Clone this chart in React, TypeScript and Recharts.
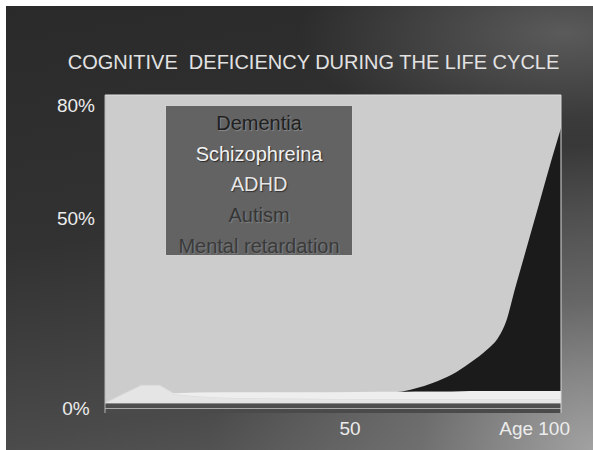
import { AreaChart, Area, XAxis, YAxis, CartesianGrid, ReferenceLine } from 'recharts'

// ages along the life cycle (x axis)
const ages = [0, 4, 8, 12, 15, 20, 25, 30, 40, 50, 60, 64, 68, 72, 76, 80, 84, 86, 88, 90, 92, 95, 98, 100]

// prevalence in %, stacked bottom -> top
const mentalRetardation = [1.3, 1.3, 1.3, 1.3, 1.3, 1.3, 1.3, 1.3, 1.3, 1.3, 1.3, 1.3, 1.3, 1.3, 1.3, 1.3, 1.3, 1.3, 1.3, 1.3, 1.3, 1.3, 1.3, 1.3]
const autism = [1.3, 1.3, 1.3, 1.3, 1.3, 1.3, 1.3, 1.3, 1.3, 1.3, 1.3, 1.3, 1.3, 1.3, 1.3, 1.3, 1.3, 1.3, 1.3, 1.3, 1.3, 1.3, 1.3, 1.3]
const adhd = [0, 2.4, 4.7, 4.7, 2.4, 1.8, 1.5, 1.3, 1.2, 1.1, 1.1, 1.1, 1.1, 1.1, 1.1, 1.1, 1.1, 1.1, 1.1, 1.1, 1.1, 1.1, 1.1, 1.1]
const schizophrenia = [0, 0, 0, 0, 0.2, 1.0, 1.4, 1.6, 1.7, 1.8, 1.9, 1.9, 2.0, 2.0, 2.0, 2.1, 2.1, 2.1, 2.1, 2.1, 2.1, 2.1, 2.1, 2.1]
const dementia = [0, 0, 0, 0, 0, 0, 0, 0, 0, 0, 0, 0, 0.8, 2.3, 4.4, 7.4, 11.2, 13.7, 18.5, 27.4, 35.9, 48.6, 61.4, 69.5]

const yTicks = [0, 50, 80]
const xTicks = [50, 100]

const legendItems = [
  { name: 'Dementia', color: '#202020', shadow: '1px 1px 1px rgba(255,255,255,0.25)' },
  { name: 'Schizophreina', color: '#f2f2f2', shadow: '1px 1px 1px rgba(0,0,0,0.6)' },
  { name: 'ADHD', color: '#e6e6e6', shadow: '1px 1px 1px rgba(0,0,0,0.5)' },
  { name: 'Autism', color: '#363636', shadow: '1px 1px 1px rgba(255,255,255,0.2)' },
  { name: 'Mental retardation', color: '#3a3a3a', shadow: '1px 1px 1px rgba(255,255,255,0.18)' },
]

const font = '"Liberation Sans", Arial, sans-serif'

const data = ages.map((age, i) => ({
  age,
  mentalRetardation: mentalRetardation[i],
  autism: autism[i],
  adhd: adhd[i],
  schizophrenia: schizophrenia[i],
  dementia: dementia[i],
}))

const YTick = ({ y, payload }: any) => (
  <text x={76} y={y} dy={-5} textAnchor="middle" dominantBaseline="central" fill="#ececec" fontSize={19} fontFamily={font}>
    {payload.value}%
  </text>
)

const XTick = ({ x, y, payload }: any) => {
  const last = payload.value === 100
  return (
    <text
      x={x}
      y={y}
      dx={last ? 9 : 17}
      dy={14}
      textAnchor={last ? 'end' : 'middle'}
      fill="#ececec"
      fontSize={19}
      fontFamily={font}
    >
      {last ? `Age ${payload.value}` : payload.value}
    </text>
  )
}

export default function App() {
  return (
    <div style={{ position: 'fixed', left: 0, top: 0, width: 593, height: 450, background: '#fff', overflow: 'hidden' }}>
      <div
        style={{
          position: 'absolute',
          left: 6,
          top: 6,
          width: 587,
          height: 444,
          background:
            'radial-gradient(ellipse 65% 75% at 100% 100%, rgba(165,165,165,0.95) 0%, rgba(130,130,130,0.55) 45%, rgba(0,0,0,0) 100%),' +
            'radial-gradient(ellipse 45% 25% at 95% 6%, rgba(120,120,120,0.6) 0%, rgba(0,0,0,0) 100%),' +
            'linear-gradient(170deg, #2a2a2a 0%, #323232 45%, #4a4a4a 80%, #5e5e5e 100%)',
        }}
      />
      <div
        style={{
          position: 'absolute',
          left: 0,
          top: 50,
          width: 627,
          textAlign: 'center',
          color: '#e2e2e2',
          fontFamily: font,
          fontSize: 20,
          whiteSpace: 'pre',
          lineHeight: '24px',
        }}
      >
        {'COGNITIVE  DEFICIENCY DURING THE LIFE CYCLE'}
      </div>
      <div style={{ position: 'absolute', left: 0, top: 0 }}>
        <AreaChart width={593} height={450} data={data} margin={{ top: 95, right: 32, left: 55, bottom: 7 }}>
          <CartesianGrid horizontal={false} vertical={false} fill="#cccccc" />
          <XAxis
            dataKey="age"
            type="number"
            domain={[0, 100]}
            ticks={xTicks}
            tick={<XTick />}
            axisLine={false}
            tickLine={false}
            height={30}
          />
          <YAxis
            type="number"
            domain={[0, 84]}
            ticks={yTicks}
            tick={<YTick />}
            axisLine={{ stroke: '#b5b5b5' }}
            tickLine={false}
            width={50}
          />
          <Area type="linear" dataKey="mentalRetardation" stackId="a" stroke="#a9a9a9" strokeWidth={2} fill="#4a4a4a" fillOpacity={1} isAnimationActive={false} />
          <Area type="linear" dataKey="autism" stackId="a" stroke="none" fill="#4e4e4e" fillOpacity={1} isAnimationActive={false} />
          <Area type="linear" dataKey="adhd" stackId="a" stroke="#dcdcdc" strokeWidth={1} fill="#e5e5e5" fillOpacity={1} isAnimationActive={false} />
          <Area type="linear" dataKey="schizophrenia" stackId="a" stroke="none" fill="#eeeeee" fillOpacity={1} isAnimationActive={false} />
          <Area type="monotone" dataKey="dementia" stackId="a" stroke="none" fill="#1b1b1b" fillOpacity={1} isAnimationActive={false} />
          <ReferenceLine y={84} stroke="#e2e2e2" />
          <ReferenceLine x={100} stroke="#d8d8d8" />
        </AreaChart>
      </div>
      <div
        style={{
          position: 'absolute',
          left: 165,
          top: 105,
          width: 186,
          height: 147,
          background: '#636363',
          border: '1px solid #cfcfcf',
          fontFamily: font,
          fontSize: 20,
          textAlign: 'center',
          paddingTop: 2,
          boxSizing: 'content-box',
        }}
      >
        {legendItems.map((item) => (
          <div key={item.name} style={{ color: item.color, textShadow: item.shadow, lineHeight: '30.7px', height: 30.7 }}>
            {item.name}
          </div>
        ))}
      </div>
    </div>
  )
}
